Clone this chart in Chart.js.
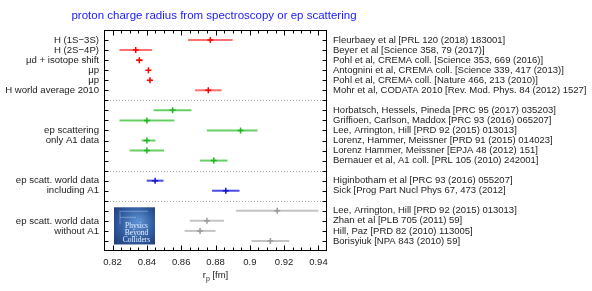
<!DOCTYPE html>
<html><head><meta charset="utf-8">
<script src="https://cdn.jsdelivr.net/npm/chart.js@4/dist/chart.umd.min.js"></script>
<style>html,body{margin:0;padding:0;background:#fff}#wrap{width:592px;height:291px}</style>
</head><body><div id="wrap"><canvas id="c" width="592" height="291"></canvas></div>
<script>
// ---- data ----
const titleText = "proton charge radius from spectroscopy or ep scattering";
const xTicks = [0.82, 0.84, 0.86, 0.88, 0.9, 0.92, 0.94];
const xTickLabels = ["0.82", "0.84", "0.86", "0.88", "0.9", "0.92", "0.94"];
const xAxisTitle = ["r", "p", " [fm]"];

const redRows   = [1, 2, 3, 4, 5, 6];
const redValues = [0.877, 0.8335, 0.8356, 0.8409, 0.8418, 0.8758];
const redLow    = [0.864, 0.824, 0.8336, 0.8405, 0.8411, 0.8681];
const redHigh   = [0.890, 0.843, 0.8376, 0.8413, 0.8425, 0.8835];

const greenRows   = [8, 9, 10, 11, 12, 13];
const greenValues = [0.855, 0.840, 0.8946, 0.840, 0.840, 0.879];
const greenLow    = [0.844, 0.824, 0.875, 0.837, 0.830, 0.871];
const greenHigh   = [0.866, 0.856, 0.9045, 0.845, 0.850, 0.887];

const blueRows   = [15, 16];
const blueValues = [0.8448, 0.886];
const blueLow    = [0.8399, 0.878];
const blueHigh   = [0.8497, 0.894];

const greyRows   = [18, 19, 20, 21];
const greyValues = [0.916, 0.875, 0.871, 0.912];
const greyLow    = [0.892, 0.865, 0.862, 0.901];
const greyHigh   = [0.940, 0.885, 0.880, 0.923];

const separatorRows = [7, 14, 17];

const groupLabelRows = [1, 2, 3, 4, 5, 6, 10, 11, 15, 16, 19, 20];
const groupLabels = ["H (1S\u22123S)", "H (2S\u22124P)", "\u03bcd + isotope shift", "\u03bcp", "\u03bcp",
  "H world average 2010", "ep scattering", "only A1 data", "ep scatt. world data", "including A1",
  "ep scatt. world data", "without A1"];

const refLabelRows = [1, 2, 3, 4, 5, 6, 8, 9, 10, 11, 12, 13, 15, 16, 18, 19, 20, 21];
const refLabels = [
  "Fleurbaey et al [PRL 120 (2018) 183001]",
  "Beyer et al [Science 358, 79 (2017)]",
  "Pohl et al, CREMA coll. [Science 353, 669 (2016)]",
  "Antognini et al, CREMA coll. [Science 339, 417 (2013)]",
  "Pohl et al, CREMA coll. [Nature 466, 213 (2010)]",
  "Mohr et al, CODATA 2010 [Rev. Mod. Phys. 84 (2012) 1527]",
  "Horbatsch, Hessels, Pineda [PRC 95 (2017) 035203]",
  "Griffioen, Carlson, Maddox [PRC 93 (2016) 065207]",
  "Lee, Arrington, Hill [PRD 92 (2015) 013013]",
  "Lorenz, Hammer, Meissner [PRD 91 (2015) 014023]",
  "Lorenz Hammer, Meissner [EPJA 48 (2012) 151]",
  "Bernauer et al, A1 coll. [PRL 105 (2010) 242001]",
  "Higinbotham et al [PRC 93 (2016) 055207]",
  "Sick [Prog Part Nucl Phys 67, 473 (2012]",
  "Lee, Arrington, Hill [PRD 92 (2015) 013013]",
  "Zhan et al [PLB 705 (2011) 59]",
  "Hill, Paz [PRD 82 (2010) 113005]",
  "Borisyiuk [NPA 843 (2010) 59]"
];
const logoLines = ["Physics", "Beyond", "Colliders"];

// ---- build ----
const FONT = "Liberation Sans, Arial, Helvetica, sans-serif";
function mk(rows, vals, lo, hi) {
  return rows.map((r, i) => ({ x: vals[i], y: r, lo: lo[i], hi: hi[i] }));
}
function ds(data, mark, err) {
  return { data, pointStyle: 'cross', pointRadius: 3, pointBorderWidth: 1.5,
    borderColor: mark, backgroundColor: mark, errColor: err, showLine: false,
    pointHoverRadius: 3 };
}
const datasets = [
  ds(mk(redRows, redValues, redLow, redHigh), '#ff0000', '#ff7070'),
  ds(mk(greenRows, greenValues, greenLow, greenHigh), '#1fb51f', '#66d066'),
  ds(mk(blueRows, blueValues, blueLow, blueHigh), '#1515c8', '#4a4ae6'),
  ds(mk(greyRows, greyValues, greyLow, greyHigh), '#9a9a9a', '#c4c4c4')
];
const allRows = Array.from({ length: 23 }, (_, i) => i);

const custom = {
  id: 'custom',
  beforeDatasetsDraw(chart) {
    const { ctx, chartArea: a, scales: { x, y } } = chart;
    ctx.save();
    ctx.strokeStyle = '#a8a8a8'; ctx.lineWidth = 1; ctx.setLineDash([1, 2]);
    separatorRows.forEach(r => {
      const py = Math.round(y.getPixelForValue(r)) + 0.5;
      ctx.beginPath(); ctx.moveTo(a.left, py); ctx.lineTo(a.right, py); ctx.stroke();
    });
    ctx.setLineDash([]);
    // logo
    const lx = a.left + 10, ly = y.getPixelForValue(17.65), lw = 41, lh = y.getPixelForValue(21.35) - ly;
    const g = ctx.createRadialGradient(lx + lw * 0.6, ly + lh * 0.4, 2, lx + lw * 0.5, ly + lh * 0.5, lw * 0.8);
    g.addColorStop(0, '#5b8fd0'); g.addColorStop(0.5, '#2f5a9e'); g.addColorStop(1, '#182f66');
    ctx.fillStyle = g; ctx.fillRect(lx, ly, lw, lh);
    ctx.strokeStyle = 'rgba(200,220,255,0.7)'; ctx.lineWidth = 0.6;
    ctx.beginPath(); ctx.moveTo(lx + 5, ly + 4); ctx.lineTo(lx + 34, ly + 4);
    ctx.moveTo(lx + 6, ly + 5); ctx.lineTo(lx + 6, ly + 17); ctx.moveTo(lx + 6, ly + 10); ctx.lineTo(lx + 22, ly + 10); ctx.stroke();
    ctx.fillStyle = '#e6efff'; ctx.font = "7.5px 'Liberation Serif', serif"; ctx.textAlign = 'center'; ctx.textBaseline = 'middle';
    logoLines.forEach((t, i) => ctx.fillText(t, lx + lw / 2 + 2, ly + 19 + i * 7));
    // error bars
    ctx.lineWidth = 2;
    chart.data.datasets.forEach(d => {
      ctx.strokeStyle = d.errColor;
      d.data.forEach(p => {
        const py = y.getPixelForValue(p.y);
        ctx.beginPath(); ctx.moveTo(x.getPixelForValue(p.lo), py); ctx.lineTo(x.getPixelForValue(p.hi), py); ctx.stroke();
      });
    });
    ctx.restore();
  },
  afterDraw(chart) {
    const { ctx, chartArea: a, scales: { x, y } } = chart;
    ctx.save();
    ctx.strokeStyle = '#000'; ctx.lineWidth = 1;
    const L = Math.round(a.left) + 0.5, R = Math.round(a.right) - 0.5, T = Math.round(a.top) + 0.5, B = Math.round(a.bottom) - 0.5;
    ctx.strokeRect(L, T, R - L, B - T);
    ctx.beginPath();
    for (let v = 0.815; v <= 0.9451; v += 0.005) {
      const vv = Math.round(v * 1000) / 1000;
      if (vv <= 0.815 || vv >= 0.945) continue;
      const major = Math.abs(vv * 50 - Math.round(vv * 50)) < 1e-6;
      const len = major ? 5 : 3;
      const px = Math.round(x.getPixelForValue(vv)) + 0.5;
      ctx.moveTo(px, B); ctx.lineTo(px, B - len);
      ctx.moveTo(px, T); ctx.lineTo(px, T + len);
    }
    for (let r = 1; r <= 21; r++) {
      const py = Math.round(y.getPixelForValue(r)) + 0.5;
      ctx.moveTo(L, py); ctx.lineTo(L + 4, py);
      ctx.moveTo(R, py); ctx.lineTo(R - 4, py);
    }
    ctx.stroke();
    ctx.fillStyle = '#1a1aff'; ctx.font = "11.5px " + FONT; ctx.textAlign = 'center'; ctx.textBaseline = 'middle';
    ctx.fillText(titleText, 214, 16);
    ctx.fillStyle = '#222';
    ctx.font = "9.5px " + FONT;
    const w0 = ctx.measureText(xAxisTitle[0]).width;
    ctx.font = "7px " + FONT;
    const w1 = ctx.measureText(xAxisTitle[1]).width;
    ctx.font = "9.5px " + FONT;
    const w2 = ctx.measureText(xAxisTitle[2]).width;
    let sx = (a.left + a.right) / 2 - (w0 + w1 + w2) / 2;
    ctx.textAlign = 'left'; ctx.textBaseline = 'alphabetic';
    ctx.fillText(xAxisTitle[0], sx, 278);
    ctx.font = "7px " + FONT; ctx.fillText(xAxisTitle[1], sx + w0, 281);
    ctx.font = "9.5px " + FONT; ctx.fillText(xAxisTitle[2], sx + w0 + w1, 278);
    ctx.restore();
  }
};

new Chart(document.getElementById('c'), {
  type: 'scatter',
  data: { datasets },
  options: {
    responsive: false, animation: false, devicePixelRatio: 1,
    layout: { padding: { top: 30, left: 0, right: 0, bottom: 0 } },
    plugins: { legend: { display: false }, tooltip: { enabled: false }, title: { display: false } },
    scales: {
      x: {
        type: 'linear', min: 0.815, max: 0.945, position: 'bottom',
        afterBuildTicks: s => { s.ticks = xTicks.map(v => ({ value: v })); },
        afterFit: s => { s.height = 40; },
        grid: { display: false, drawTicks: false }, border: { display: false },
        ticks: { padding: 6, color: '#222', font: { family: FONT, size: 9.5 },
          callback: (v) => { const i = xTicks.findIndex(t => Math.abs(t - v) < 1e-9); return i >= 0 ? xTickLabels[i] : ''; } }
      },
      y: {
        type: 'linear', min: 0, max: 22, reverse: true, position: 'left',
        afterBuildTicks: s => { s.ticks = allRows.map(v => ({ value: v })); },
        afterFit: s => { s.width = 104; },
        grid: { display: false, drawTicks: false }, border: { display: false },
        ticks: { autoSkip: false, padding: 5, color: '#222', font: { family: FONT, size: 9.6 },
          callback: (v) => { const i = groupLabelRows.indexOf(v); return i >= 0 ? groupLabels[i] : ''; } }
      },
      yR: {
        type: 'linear', min: 0, max: 22, reverse: true, position: 'right',
        afterBuildTicks: s => { s.ticks = allRows.map(v => ({ value: v })); },
        afterFit: s => { s.width = 265; },
        grid: { display: false, drawTicks: false }, border: { display: false },
        ticks: { autoSkip: false, padding: 6, color: '#222', font: { family: FONT, size: 9.5 },
          callback: (v) => { const i = refLabelRows.indexOf(v); return i >= 0 ? refLabels[i] : ''; } }
      }
    }
  },
  plugins: [custom]
});
</script>
</body></html>
